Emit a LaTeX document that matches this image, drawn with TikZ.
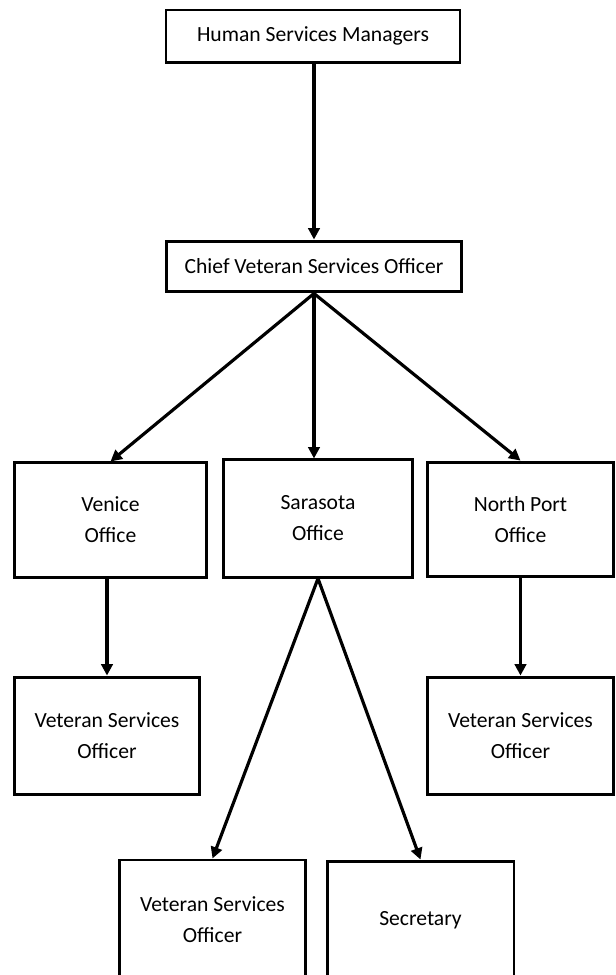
\documentclass[tikz,border=0pt]{standalone}
\usepackage{fontspec}
\setmainfont{Carlito}
\usetikzlibrary{arrows.meta}

\begin{document}
\begin{tikzpicture}[scale=0.2,
    box/.style={draw=black, line width=1.7pt, inner sep=0pt, align=center,
                font=\fontsize{12.3}{17.6}\selectfont},
    link/.style={line width=1.8pt, -{Triangle[length=6.5pt,width=6.5pt]}}]
            \useasboundingbox (0,0) rectangle (61.5,-97.5);
            \node [box, minimum width=167.3pt, minimum height=29.6pt] (hsm) at (31.3,-3.6) {Human Services Managers};
            \node [box, minimum width=167.9pt, minimum height=29pt] (chief) at (31.4,-26.65) {Chief Veteran Services Officer};
            \node [box, minimum width=109.8pt, minimum height=64.9pt] (venice) at (11.05,-52) {Venice\\Office};
            \node [box, minimum width=107pt, minimum height=66.6pt] (sarasota) at (31.8,-51.85) {Sarasota\\Office};
            \node [box, minimum width=105.3pt, minimum height=65.4pt] (north) at (52.05,-51.95) {North Port\\Office};
            \node [box, minimum width=105.8pt, minimum height=67.1pt] (vsoven) at (10.7,-73.6) {Veteran Services\\Officer};
            \node [box, minimum width=105.3pt, minimum height=67.1pt] (vsonor) at (52.05,-73.6) {Veteran Services\\Officer};
            \node [box, minimum width=105.3pt, minimum height=68.3pt] (vsosar) at (21.25,-92) {Veteran Services\\Officer};
            \node [box, minimum width=106.4pt, minimum height=67.7pt] (secretary) at (42.05,-92.05) {Secretary};
            \draw [link] (hsm.south -| chief.north) -- (chief.north);
            \draw [link] (chief.south) -- (venice.north);
            \draw [link] (chief.south) -- (chief.south |- sarasota.north);
            \draw [link] (chief.south) -- (north.north);
            \draw [link] (vsoven.north |- venice.south) -- (vsoven.north);
            \draw [link] (north.south) -- (vsonor.north);
            \draw [link] (sarasota.south) -- (vsosar.north);
            \draw [link] (sarasota.south) -- (secretary.north);
\end{tikzpicture}
\end{document}
